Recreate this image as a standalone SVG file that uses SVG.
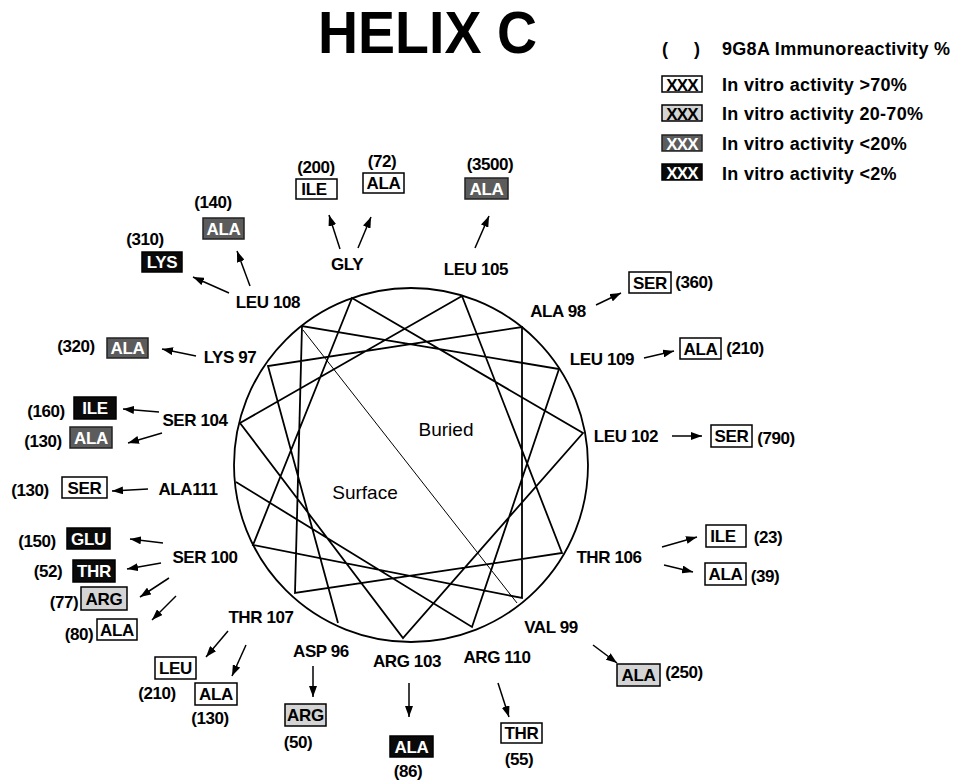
<svg xmlns="http://www.w3.org/2000/svg" width="955" height="784" viewBox="0 0 955 784">
<defs>
<marker id="ah" markerUnits="userSpaceOnUse" markerWidth="11" markerHeight="8" refX="11" refY="4" orient="auto">
<path d="M0,0 L11,4 L0,8 z" fill="#000"/>
</marker>
<style>
text{font-family:"Liberation Sans",Arial,Helvetica,sans-serif;font-weight:bold;fill:#000}
.t{font-size:60px}
.lbl{font-size:17px;letter-spacing:-0.4px;text-anchor:middle}
.val{font-size:17px;letter-spacing:-0.4px;text-anchor:middle}
.bt{font-size:17px;letter-spacing:-0.3px;text-anchor:middle}
.lx{font-size:17px;letter-spacing:-0.8px;text-anchor:middle}
.lg{font-size:18px;letter-spacing:0.3px}
.reg{font-weight:normal;font-size:19px;text-anchor:middle}
.w{fill:#fff;stroke:#000;stroke-width:1.5}
.g{fill:#d4d4d4;stroke:#000;stroke-width:1.5}
.d{fill:#5c5c5c;stroke:#222;stroke-width:1.5}
.k{fill:#0a0a0a;stroke:#000;stroke-width:1.5}
.wt{fill:#fff}
.conn line{stroke:#000;stroke-width:1.5;marker-end:url(#ah)}
.wheel{fill:none;stroke:#000;stroke-width:1.8}
</style>
</defs>
<rect width="955" height="784" fill="#fff"/>

<text class="t" x="318" y="53" textLength="219" lengthAdjust="spacingAndGlyphs">HELIX C</text>

<g id="legend">
<text class="lg" x="662" y="55">(</text>
<text class="lg" x="694" y="55">)</text>
<text class="lg" x="722" y="55">9G8A Immunoreactivity %</text>
<rect class="w" x="662" y="76" width="40" height="16"/>
<text class="lx" x="682" y="91">XXX</text>
<text class="lg" x="722" y="91">In vitro activity &gt;70%</text>
<rect class="g" x="662" y="105" width="40" height="16"/>
<text class="lx" x="682" y="120">XXX</text>
<text class="lg" x="722" y="120">In vitro activity 20-70%</text>
<rect class="d" x="662" y="135" width="40" height="16"/>
<text class="lx wt" x="682" y="150">XXX</text>
<text class="lg" x="722" y="150">In vitro activity &lt;20%</text>
<rect class="k" x="662" y="164" width="40" height="16"/>
<text class="lx wt" x="682" y="179">XXX</text>
<text class="lg" x="722" y="180">In vitro activity &lt;2%</text>
</g>

<g id="wheel">
<circle class="wheel" cx="411" cy="465" r="177"/>
<polyline class="wheel" points="338,623 268,366 522,327 522,598 253,545 352,298 583,433 403,638 240,423 462,296 562,553 295,593 302,326 559,369 472,627 236,482"/>
<line x1="303" y1="330" x2="517" y2="603" stroke="#000" stroke-width="1"/>
<text class="reg" x="446" y="436">Buried</text>
<text class="reg" x="365" y="499">Surface</text>
</g>

<g class="conn" id="connectors">
<line x1="340" y1="249" x2="329" y2="215"/>
<line x1="358" y1="248" x2="371" y2="217"/>
<line x1="475" y1="248" x2="489" y2="216"/>
<line x1="250" y1="286" x2="237" y2="251"/>
<line x1="229" y1="293" x2="193" y2="277"/>
<line x1="196" y1="356" x2="162" y2="349"/>
<line x1="159" y1="412" x2="123" y2="409"/>
<line x1="162" y1="433" x2="128" y2="443"/>
<line x1="148" y1="489" x2="112" y2="491"/>
<line x1="163" y1="543" x2="130" y2="539"/>
<line x1="161" y1="563" x2="127" y2="569"/>
<line x1="169" y1="578" x2="140" y2="597"/>
<line x1="176" y1="596" x2="152" y2="620"/>
<line x1="228" y1="631" x2="206" y2="657"/>
<line x1="246" y1="645" x2="232" y2="676"/>
<line x1="313" y1="666" x2="313" y2="697"/>
<line x1="409" y1="683" x2="409" y2="717"/>
<line x1="498" y1="683" x2="509" y2="717"/>
<line x1="593" y1="645" x2="617" y2="663"/>
<line x1="662" y1="547" x2="697" y2="537"/>
<line x1="664" y1="565" x2="693" y2="572"/>
<line x1="672" y1="436" x2="702" y2="436"/>
<line x1="644" y1="358" x2="674" y2="351"/>
<line x1="596" y1="305" x2="621" y2="293"/>
</g>

<g id="gly101">
<text class="lbl" x="347" y="270">GLY</text>
<text class="val" x="316" y="173">(200)</text>
<rect class="w" x="296" y="179" width="41" height="20"/>
<text class="bt" x="314" y="195">ILE</text>
<text class="val" x="382" y="167">(72)</text>
<rect class="w" x="363" y="173" width="41" height="20"/>
<text class="bt" x="383.5" y="189">ALA</text>
</g>

<g id="leu105">
<text class="lbl" x="476" y="275">LEU 105</text>
<text class="val" x="490" y="170">(3500)</text>
<rect class="d" x="465" y="178" width="43" height="21"/>
<text class="bt wt" x="486.5" y="195">ALA</text>
</g>

<g id="leu108">
<text class="lbl" x="268" y="308">LEU 108</text>
<text class="val" x="213" y="208">(140)</text>
<rect class="d" x="203" y="218" width="41" height="21"/>
<text class="bt wt" x="223.5" y="235">ALA</text>
<text class="val" x="145" y="245">(310)</text>
<rect class="k" x="142" y="252" width="40" height="20"/>
<text class="bt wt" x="162" y="268">LYS</text>
</g>

<g id="lys97">
<text class="lbl" x="230" y="363">LYS 97</text>
<text class="val" x="76" y="352">(320)</text>
<rect class="d" x="107" y="338" width="41" height="20"/>
<text class="bt wt" x="127.5" y="354">ALA</text>
</g>

<g id="ser104">
<text class="lbl" x="195" y="426">SER 104</text>
<text class="val" x="46" y="417">(160)</text>
<rect class="k" x="74" y="397" width="42" height="22"/>
<text class="bt wt" x="95" y="414">ILE</text>
<text class="val" x="43" y="447">(130)</text>
<rect class="d" x="70" y="427" width="42" height="21"/>
<text class="bt wt" x="91" y="444">ALA</text>
</g>

<g id="ala111">
<text class="lbl" x="188" y="495">ALA111</text>
<text class="val" x="30" y="496">(130)</text>
<rect class="w" x="62" y="477" width="45" height="21"/>
<text class="bt" x="84.5" y="494">SER</text>
</g>

<g id="ser100">
<text class="lbl" x="205" y="563">SER 100</text>
<text class="val" x="37" y="547">(150)</text>
<rect class="k" x="67" y="528" width="43" height="21"/>
<text class="bt wt" x="88.5" y="545">GLU</text>
<text class="val" x="48" y="577">(52)</text>
<rect class="k" x="73" y="560" width="42" height="22"/>
<text class="bt wt" x="94" y="577">THR</text>
<text class="val" x="64" y="608">(77)</text>
<rect class="g" x="81" y="587" width="46" height="23"/>
<text class="bt" x="104" y="605">ARG</text>
<text class="val" x="79" y="640">(80)</text>
<rect class="w" x="97" y="619" width="40" height="21"/>
<text class="bt" x="117" y="636">ALA</text>
</g>

<g id="thr107">
<text class="lbl" x="261" y="623">THR 107</text>
<rect class="w" x="155" y="657" width="41" height="22"/>
<text class="bt" x="175.5" y="674">LEU</text>
<text class="val" x="157" y="699">(210)</text>
<rect class="w" x="195" y="683" width="42" height="22"/>
<text class="bt" x="216" y="700">ALA</text>
<text class="val" x="210" y="724">(130)</text>
</g>

<g id="asp96">
<text class="lbl" x="321" y="657">ASP 96</text>
<rect class="g" x="285" y="704" width="41" height="22"/>
<text class="bt" x="305.5" y="721">ARG</text>
<text class="val" x="298" y="748">(50)</text>
</g>

<g id="arg103">
<text class="lbl" x="407" y="667">ARG 103</text>
<rect class="k" x="390" y="736" width="43" height="21"/>
<text class="bt wt" x="411.5" y="753">ALA</text>
<text class="val" x="408" y="777">(86)</text>
</g>

<g id="arg110">
<text class="lbl" x="497" y="663">ARG 110</text>
<rect class="w" x="501" y="723" width="41" height="20"/>
<text class="bt" x="521.5" y="739">THR</text>
<text class="val" x="519" y="765">(55)</text>
</g>

<g id="val99">
<text class="lbl" x="551" y="633">VAL 99</text>
<rect class="g" x="617" y="664" width="43" height="22"/>
<text class="bt" x="638.5" y="681">ALA</text>
<text class="val" x="684" y="678">(250)</text>
</g>

<g id="thr106">
<text class="lbl" x="609" y="563">THR 106</text>
<rect class="w" x="706" y="525" width="40" height="22"/>
<text class="bt" x="723" y="542">ILE</text>
<text class="val" x="768" y="543">(23)</text>
<rect class="w" x="705" y="563" width="41" height="22"/>
<text class="bt" x="725.5" y="580">ALA</text>
<text class="val" x="765" y="582">(39)</text>
</g>

<g id="leu102">
<text class="lbl" x="626" y="442">LEU 102</text>
<rect class="w" x="711" y="425" width="41" height="22"/>
<text class="bt" x="731.5" y="442">SER</text>
<text class="val" x="776" y="444">(790)</text>
</g>

<g id="leu109">
<text class="lbl" x="602" y="365">LEU 109</text>
<rect class="w" x="680" y="338" width="41" height="21"/>
<text class="bt" x="700.5" y="355">ALA</text>
<text class="val" x="745" y="354">(210)</text>
</g>

<g id="ala98">
<text class="lbl" x="558" y="317">ALA 98</text>
<rect class="w" x="629" y="272" width="42" height="21"/>
<text class="bt" x="650" y="289">SER</text>
<text class="val" x="694" y="288">(360)</text>
</g>
</svg>
